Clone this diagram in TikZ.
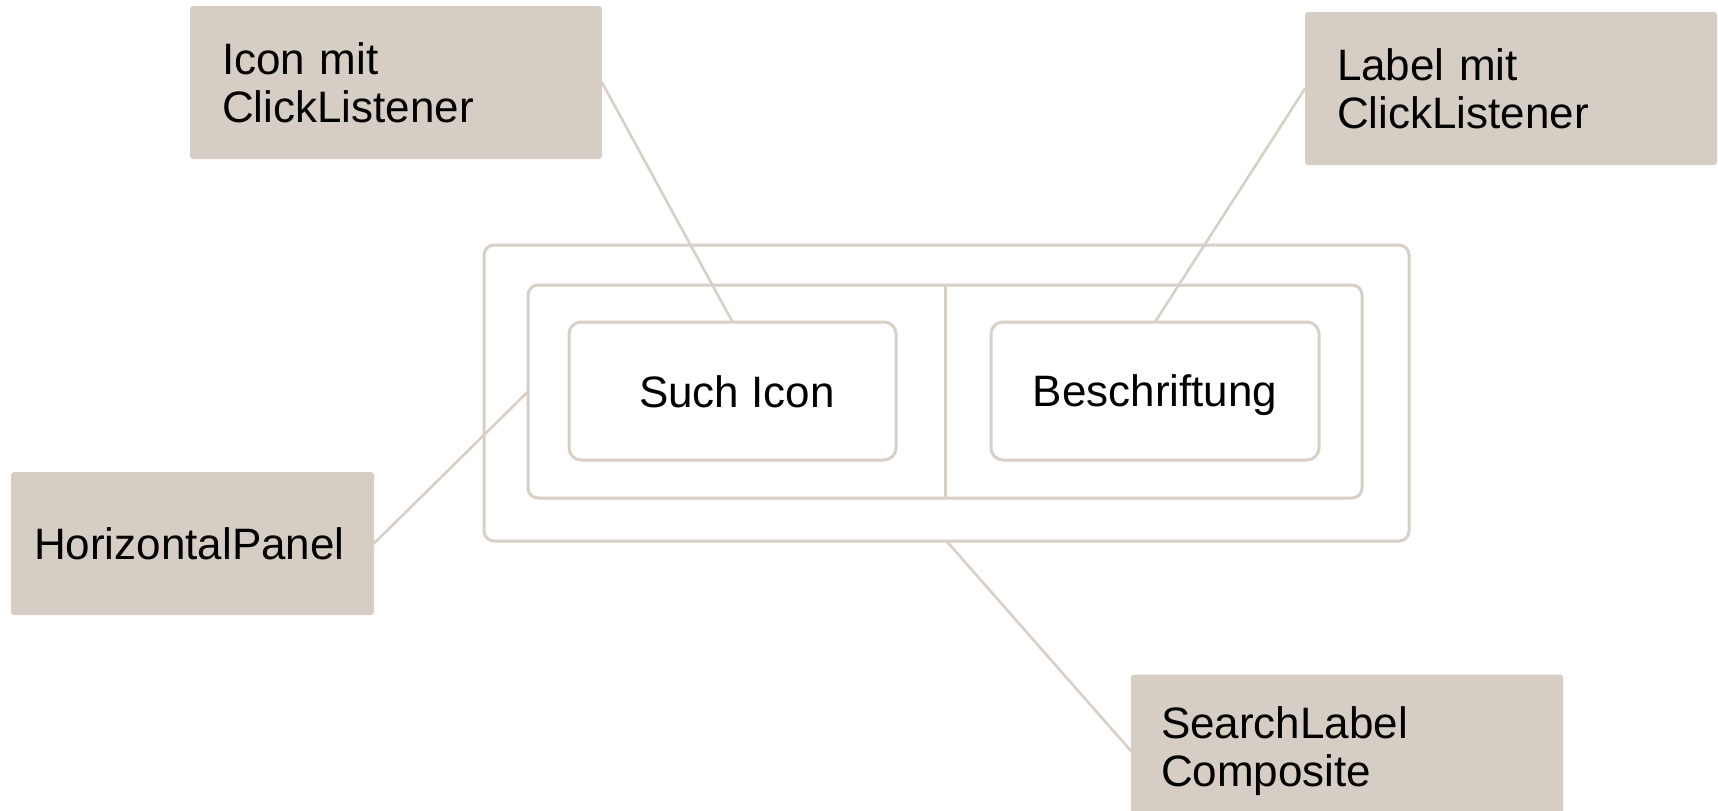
\documentclass[tikz,border=0pt]{standalone}
\usepackage{fontspec}
\setmainfont{Liberation Sans}
\definecolor{taupe}{RGB}{214,205,196}
\definecolor{frameline}{RGB}{216,207,198}
\begin{document}
\begin{tikzpicture}[x=0.5pt,y=-0.5pt,
  every node/.style={font=\fontsize{22}{24}\selectfont, outer sep=0pt},
  tag/.style={fill=taupe, draw=none, rounded corners=1.5pt, inner ysep=0pt,
              align=left},
  frame/.style={draw=frameline, line width=1.5pt, rounded corners=#1, inner sep=0pt},
  frame/.default=6pt,
  link/.style={draw=frameline, line width=1.3pt}]
\clip (0,0) rectangle (1718,810);
\useasboundingbox (0,0) rectangle (1718,810);

% nested containers
\node[frame=5pt, minimum width=462.5pt, minimum height=148pt] (outer) at (946.5,393) {};
\node[frame=5pt, minimum width=417pt, minimum height=106.5pt] (panel) at (945,391.5) {};
\draw[link, line width=1.5pt] (panel.north) -- (panel.south);
\node[frame, minimum width=163.5pt, minimum height=69pt, text depth=0pt] (icon) at (732.5,391) {\hspace{4.5pt}\raisebox{-1pt}{Such Icon}};
\node[frame, minimum width=164pt, minimum height=69pt, text depth=0pt] (caption) at (1155,391) {Beschriftung};

% callout labels
\node[tag, inner xsep=16pt, text width=174pt, minimum height=76.5pt] (iconTag) at (396,82.5) {Icon mit\\ClickListener};
\node[tag, inner xsep=16pt, text width=174pt, minimum height=76.5pt] (labelTag) at (1511,88.5) {Label mit\\ClickListener};
\node[tag, inner xsep=11.5pt, text width=158.5pt, minimum height=71.5pt] (panelTag) at (192.5,543.5) {HorizontalPanel};
\node[tag, inner xsep=15pt, text width=186pt, minimum height=76.5pt] (compTag) at (1347,751) {SearchLabel\\Composite};

% connectors
\draw[link] (iconTag.east) -- (icon.north);
\draw[link] (labelTag.west) -- (caption.north);
\draw[link] (panelTag.east) -- (panel.west);
\draw[link] (outer.south) -- (compTag.west);
\end{tikzpicture}
\end{document}
